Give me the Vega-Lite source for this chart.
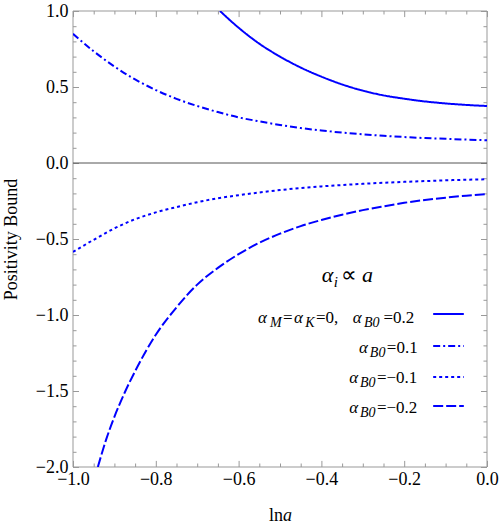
{
  "$schema": "https://vega.github.io/schema/vega-lite/v6.json",
  "width": 414,
  "height": 456,
  "autosize": "none",
  "padding": {"left": 73, "top": 11, "right": 13, "bottom": 58},
  "config": {"view": {"stroke": null}, "font": "Liberation Serif"},
  "datasets": {
    "curves": [
      {"s": "p2", "x": -0.645, "y": 1.0}, {"s": "p2", "x": -0.6, "y": 0.89}, {"s": "p2", "x": -0.55, "y": 0.785},
      {"s": "p2", "x": -0.5, "y": 0.70}, {"s": "p2", "x": -0.45, "y": 0.628}, {"s": "p2", "x": -0.4, "y": 0.568},
      {"s": "p2", "x": -0.35, "y": 0.517}, {"s": "p2", "x": -0.3, "y": 0.476}, {"s": "p2", "x": -0.25, "y": 0.445},
      {"s": "p2", "x": -0.2, "y": 0.423}, {"s": "p2", "x": -0.15, "y": 0.405}, {"s": "p2", "x": -0.1, "y": 0.392},
      {"s": "p2", "x": -0.05, "y": 0.382}, {"s": "p2", "x": 0, "y": 0.375},
      {"s": "p1", "x": -1, "y": 0.85}, {"s": "p1", "x": -0.95, "y": 0.735}, {"s": "p1", "x": -0.9, "y": 0.635},
      {"s": "p1", "x": -0.85, "y": 0.55}, {"s": "p1", "x": -0.8, "y": 0.48}, {"s": "p1", "x": -0.75, "y": 0.422},
      {"s": "p1", "x": -0.7, "y": 0.375}, {"s": "p1", "x": -0.65, "y": 0.335}, {"s": "p1", "x": -0.6, "y": 0.30},
      {"s": "p1", "x": -0.55, "y": 0.274}, {"s": "p1", "x": -0.5, "y": 0.25}, {"s": "p1", "x": -0.45, "y": 0.23},
      {"s": "p1", "x": -0.4, "y": 0.214}, {"s": "p1", "x": -0.35, "y": 0.20}, {"s": "p1", "x": -0.3, "y": 0.189},
      {"s": "p1", "x": -0.25, "y": 0.179}, {"s": "p1", "x": -0.2, "y": 0.171}, {"s": "p1", "x": -0.15, "y": 0.164},
      {"s": "p1", "x": -0.1, "y": 0.159}, {"s": "p1", "x": -0.05, "y": 0.154}, {"s": "p1", "x": 0, "y": 0.15},
      {"s": "m1", "x": -1, "y": -0.585}, {"s": "m1", "x": -0.95, "y": -0.505}, {"s": "m1", "x": -0.9, "y": -0.43},
      {"s": "m1", "x": -0.85, "y": -0.37}, {"s": "m1", "x": -0.8, "y": -0.325}, {"s": "m1", "x": -0.75, "y": -0.29},
      {"s": "m1", "x": -0.7, "y": -0.258}, {"s": "m1", "x": -0.65, "y": -0.232}, {"s": "m1", "x": -0.6, "y": -0.212},
      {"s": "m1", "x": -0.55, "y": -0.194}, {"s": "m1", "x": -0.5, "y": -0.178}, {"s": "m1", "x": -0.45, "y": -0.165},
      {"s": "m1", "x": -0.4, "y": -0.154}, {"s": "m1", "x": -0.35, "y": -0.145}, {"s": "m1", "x": -0.3, "y": -0.137},
      {"s": "m1", "x": -0.25, "y": -0.13}, {"s": "m1", "x": -0.2, "y": -0.124}, {"s": "m1", "x": -0.15, "y": -0.119},
      {"s": "m1", "x": -0.1, "y": -0.114}, {"s": "m1", "x": -0.05, "y": -0.11}, {"s": "m1", "x": 0, "y": -0.107},
      {"s": "m2", "x": -0.94, "y": -2.0}, {"s": "m2", "x": -0.92, "y": -1.82}, {"s": "m2", "x": -0.9, "y": -1.67},
      {"s": "m2", "x": -0.875, "y": -1.51}, {"s": "m2", "x": -0.85, "y": -1.37}, {"s": "m2", "x": -0.8, "y": -1.13},
      {"s": "m2", "x": -0.75, "y": -0.95}, {"s": "m2", "x": -0.7, "y": -0.80}, {"s": "m2", "x": -0.65, "y": -0.69},
      {"s": "m2", "x": -0.6, "y": -0.60}, {"s": "m2", "x": -0.55, "y": -0.525}, {"s": "m2", "x": -0.5, "y": -0.465},
      {"s": "m2", "x": -0.45, "y": -0.415}, {"s": "m2", "x": -0.4, "y": -0.375}, {"s": "m2", "x": -0.35, "y": -0.34},
      {"s": "m2", "x": -0.3, "y": -0.31}, {"s": "m2", "x": -0.25, "y": -0.285}, {"s": "m2", "x": -0.2, "y": -0.262},
      {"s": "m2", "x": -0.15, "y": -0.243}, {"s": "m2", "x": -0.1, "y": -0.228}, {"s": "m2", "x": -0.05, "y": -0.215},
      {"s": "m2", "x": 0, "y": -0.205}
    ],
    "legend": [
      {"s": "p2", "y": -0.993},
      {"s": "p1", "y": -1.204},
      {"s": "m1", "y": -1.408},
      {"s": "m2", "y": -1.599}
    ],
    "xmaj": [{"v": -1}, {"v": -0.8}, {"v": -0.6}, {"v": -0.4}, {"v": -0.2}, {"v": 0}],
    "xmin": [{"v": -0.95}, {"v": -0.9}, {"v": -0.85}, {"v": -0.75}, {"v": -0.7}, {"v": -0.65}, {"v": -0.55}, {"v": -0.5},
             {"v": -0.45}, {"v": -0.35}, {"v": -0.3}, {"v": -0.25}, {"v": -0.15}, {"v": -0.1}, {"v": -0.05}],
    "ymaj": [{"v": -2}, {"v": -1.5}, {"v": -1}, {"v": -0.5}, {"v": 0}, {"v": 0.5}, {"v": 1}],
    "ymin": [{"v": -1.9}, {"v": -1.8}, {"v": -1.7}, {"v": -1.6}, {"v": -1.4}, {"v": -1.3}, {"v": -1.2}, {"v": -1.1},
             {"v": -0.9}, {"v": -0.8}, {"v": -0.7}, {"v": -0.6}, {"v": -0.4}, {"v": -0.3}, {"v": -0.2}, {"v": -0.1},
             {"v": 0.1}, {"v": 0.2}, {"v": 0.3}, {"v": 0.4}, {"v": 0.6}, {"v": 0.7}, {"v": 0.8}, {"v": 0.9}],
    "txt": [
      {"g": "i", "t": "α", "x": -0.553, "y": -1.053},
      {"g": "s", "t": "M", "x": -0.524, "y": -1.053},
      {"g": "u", "t": "=", "x": -0.493, "y": -1.053},
      {"g": "i", "t": "α", "x": -0.466, "y": -1.053},
      {"g": "s", "t": "K", "x": -0.439, "y": -1.053},
      {"g": "u", "t": "=0,", "x": -0.413, "y": -1.053},
      {"g": "i", "t": "α", "x": -0.324, "y": -1.053},
      {"g": "s", "t": "B0", "x": -0.297, "y": -1.053},
      {"g": "u", "t": "=0.2", "x": -0.250, "y": -1.053},
      {"g": "i", "t": "α", "x": -0.309, "y": -1.25},
      {"g": "s", "t": "B0", "x": -0.283, "y": -1.25},
      {"g": "u", "t": "=0.1", "x": -0.242, "y": -1.25},
      {"g": "i", "t": "α", "x": -0.333, "y": -1.447},
      {"g": "s", "t": "B0", "x": -0.307, "y": -1.447},
      {"g": "u", "t": "=−0.1", "x": -0.266, "y": -1.447},
      {"g": "i", "t": "α", "x": -0.333, "y": -1.645},
      {"g": "s", "t": "B0", "x": -0.307, "y": -1.645},
      {"g": "u", "t": "=−0.2", "x": -0.266, "y": -1.645},
      {"g": "ti", "t": "α", "x": -0.399, "y": -0.783},
      {"g": "ts", "t": "i", "x": -0.370, "y": -0.783},
      {"g": "tu", "t": "∝", "x": -0.352, "y": -0.783},
      {"g": "ti", "t": "a", "x": -0.302, "y": -0.783},
      {"g": "xu", "t": "ln", "x": -0.493, "y": -2.355},
      {"g": "xi", "t": "a", "x": -0.493, "y": -2.355}
    ]
  },
  "resolve": {"axis": {"x": "independent", "y": "independent"}},
  "layer": [
    {
      "data": {"values": [{"x0": -1, "x1": 0, "y0": -2, "y1": 1}]},
      "mark": {"type": "rect", "filled": false, "stroke": "#999999", "strokeWidth": 1},
      "encoding": {
        "x": {"field": "x0", "type": "quantitative", "axis": null},
        "x2": {"field": "x1"},
        "y": {"field": "y0", "type": "quantitative", "axis": null},
        "y2": {"field": "y1"}
      }
    },
    {
      "data": {"name": "xmaj"},
      "mark": {"type": "rule", "color": "#999999", "strokeWidth": 1, "xOffset": 0.5},
      "encoding": {"x": {"field": "v", "type": "quantitative", "axis": null},
        "y": {"datum": -2, "type": "quantitative", "axis": null}, "y2": {"datum": -1.96}}
    },
    {
      "data": {"name": "xmaj"},
      "mark": {"type": "rule", "color": "#999999", "strokeWidth": 1, "xOffset": 0.5},
      "encoding": {"x": {"field": "v", "type": "quantitative", "axis": null},
        "y": {"datum": 1, "type": "quantitative", "axis": null}, "y2": {"datum": 0.96}}
    },
    {
      "data": {"name": "xmin"},
      "mark": {"type": "rule", "color": "#999999", "strokeWidth": 1, "xOffset": 0.5},
      "encoding": {"x": {"field": "v", "type": "quantitative", "axis": null},
        "y": {"datum": -2, "type": "quantitative", "axis": null}, "y2": {"datum": -1.977}}
    },
    {
      "data": {"name": "xmin"},
      "mark": {"type": "rule", "color": "#999999", "strokeWidth": 1, "xOffset": 0.5},
      "encoding": {"x": {"field": "v", "type": "quantitative", "axis": null},
        "y": {"datum": 1, "type": "quantitative", "axis": null}, "y2": {"datum": 0.977}}
    },
    {
      "data": {"name": "ymaj"},
      "mark": {"type": "rule", "color": "#999999", "strokeWidth": 1, "yOffset": 0.5},
      "encoding": {"y": {"field": "v", "type": "quantitative", "axis": null},
        "x": {"datum": -1, "type": "quantitative", "axis": null}, "x2": {"datum": -0.9855}}
    },
    {
      "data": {"name": "ymaj"},
      "mark": {"type": "rule", "color": "#999999", "strokeWidth": 1, "yOffset": 0.5},
      "encoding": {"y": {"field": "v", "type": "quantitative", "axis": null},
        "x": {"datum": 0, "type": "quantitative", "axis": null}, "x2": {"datum": -0.0145}}
    },
    {
      "data": {"name": "ymin"},
      "mark": {"type": "rule", "color": "#999999", "strokeWidth": 1, "yOffset": 0.5},
      "encoding": {"y": {"field": "v", "type": "quantitative", "axis": null},
        "x": {"datum": -1, "type": "quantitative", "axis": null}, "x2": {"datum": -0.9915}}
    },
    {
      "data": {"name": "ymin"},
      "mark": {"type": "rule", "color": "#999999", "strokeWidth": 1, "yOffset": 0.5},
      "encoding": {"y": {"field": "v", "type": "quantitative", "axis": null},
        "x": {"datum": 0, "type": "quantitative", "axis": null}, "x2": {"datum": -0.0085}}
    },
    {
      "data": {"values": [{"z": 0}]},
      "mark": {"type": "rule", "color": "#555555", "strokeWidth": 1},
      "encoding": {"y": {"field": "z", "type": "quantitative", "axis": null}}
    },
    {
      "data": {"name": "curves"},
      "mark": {"type": "line", "color": "#0000ff", "strokeWidth": 2, "interpolate": "monotone", "clip": true},
      "encoding": {
        "x": {"field": "x", "type": "quantitative",
          "scale": {"domain": [-1, 0], "nice": false, "zero": false},
          "axis": {"orient": "bottom", "values": [-1, -0.8, -0.6, -0.4, -0.2, 0], "format": ".1f", "title": null, "grid": false,
            "domain": false, "ticks": false,
            "labelFont": "Liberation Serif", "labelFontSize": 18,
            "labelColor": "#000000", "labelPadding": 3, "labelFlush": false, "labelOverlap": false}},
        "y": {"field": "y", "type": "quantitative",
          "scale": {"domain": [-2, 1], "nice": false, "zero": false},
          "axis": {"orient": "left", "values": [-2, -1.5, -1, -0.5, 0, 0.5, 1], "format": ".1f", "grid": false,
            "domain": false, "ticks": false,
            "labelFont": "Liberation Serif", "labelFontSize": 18,
            "labelColor": "#000000", "labelPadding": 5, "labelFlush": false, "labelOverlap": false,
            "title": "Positivity Bound", "titleFont": "Liberation Serif", "titleFontSize": 18, "titleFontWeight": "normal",
            "titleColor": "#000000", "titleX": -57, "titleY": 228, "titleAngle": -90, "titleAlign": "center", "titleBaseline": "alphabetic"}},
        "strokeDash": {"field": "s", "type": "nominal", "legend": null,
          "scale": {"domain": ["p2", "p1", "m1", "m2"], "range": [[1, 0], [7, 3, 2, 3], [3, 3], [10, 3]]}}
      }
    },
    {
      "data": {"name": "legend"},
      "mark": {"type": "rule", "color": "#0000ff", "strokeWidth": 2},
      "encoding": {
        "x": {"datum": -0.13, "type": "quantitative", "axis": null},
        "x2": {"datum": -0.056},
        "y": {"field": "y", "type": "quantitative", "axis": null},
        "strokeDash": {"field": "s", "type": "nominal", "legend": null,
          "scale": {"domain": ["p2", "p1", "m1", "m2"], "range": [[1, 0], [7, 3, 2, 3], [3, 3], [10, 3]]}}
      }
    },
    {
      "data": {"name": "txt"},
      "transform": [{"filter": "datum.g === 'u'"}],
      "mark": {"type": "text", "font": "Liberation Serif", "fontSize": 17, "align": "left", "baseline": "alphabetic", "color": "#000000"},
      "encoding": {
        "x": {"field": "x", "type": "quantitative", "axis": null},
        "y": {"field": "y", "type": "quantitative", "axis": null},
        "text": {"field": "t"}
      }
    },
    {
      "data": {"name": "txt"},
      "transform": [{"filter": "datum.g === 'i'"}],
      "mark": {"type": "text", "font": "Liberation Serif", "fontSize": 17, "fontStyle": "italic", "align": "left", "baseline": "alphabetic", "color": "#000000"},
      "encoding": {
        "x": {"field": "x", "type": "quantitative", "axis": null},
        "y": {"field": "y", "type": "quantitative", "axis": null},
        "text": {"field": "t"}
      }
    },
    {
      "data": {"name": "txt"},
      "transform": [{"filter": "datum.g === 's'"}],
      "mark": {"type": "text", "font": "Liberation Serif", "fontSize": 14, "fontStyle": "italic", "align": "left", "baseline": "alphabetic", "dy": 4, "color": "#000000"},
      "encoding": {
        "x": {"field": "x", "type": "quantitative", "axis": null},
        "y": {"field": "y", "type": "quantitative", "axis": null},
        "text": {"field": "t"}
      }
    },
    {
      "data": {"name": "txt"},
      "transform": [{"filter": "datum.g === 'ti'"}],
      "mark": {"type": "text", "font": "Liberation Serif", "fontSize": 22, "fontStyle": "italic", "align": "left", "baseline": "alphabetic", "color": "#000000"},
      "encoding": {
        "x": {"field": "x", "type": "quantitative", "axis": null},
        "y": {"field": "y", "type": "quantitative", "axis": null},
        "text": {"field": "t"}
      }
    },
    {
      "data": {"name": "txt"},
      "transform": [{"filter": "datum.g === 'tu'"}],
      "mark": {"type": "text", "font": "Liberation Serif", "fontSize": 22, "align": "left", "baseline": "alphabetic", "color": "#000000"},
      "encoding": {
        "x": {"field": "x", "type": "quantitative", "axis": null},
        "y": {"field": "y", "type": "quantitative", "axis": null},
        "text": {"field": "t"}
      }
    },
    {
      "data": {"name": "txt"},
      "transform": [{"filter": "datum.g === 'ts'"}],
      "mark": {"type": "text", "font": "Liberation Serif", "fontSize": 15, "fontStyle": "italic", "align": "left", "baseline": "alphabetic", "dy": 5, "color": "#000000"},
      "encoding": {
        "x": {"field": "x", "type": "quantitative", "axis": null},
        "y": {"field": "y", "type": "quantitative", "axis": null},
        "text": {"field": "t"}
      }
    },
    {
      "data": {"name": "txt"},
      "transform": [{"filter": "datum.g === 'xu'"}],
      "mark": {"type": "text", "font": "Liberation Serif", "fontSize": 18, "align": "right", "baseline": "alphabetic", "color": "#000000"},
      "encoding": {
        "x": {"field": "x", "type": "quantitative", "axis": null},
        "y": {"field": "y", "type": "quantitative", "axis": null},
        "text": {"field": "t"}
      }
    },
    {
      "data": {"name": "txt"},
      "transform": [{"filter": "datum.g === 'xi'"}],
      "mark": {"type": "text", "font": "Liberation Serif", "fontSize": 18, "fontStyle": "italic", "align": "left", "baseline": "alphabetic", "color": "#000000"},
      "encoding": {
        "x": {"field": "x", "type": "quantitative", "axis": null},
        "y": {"field": "y", "type": "quantitative", "axis": null},
        "text": {"field": "t"}
      }
    }
  ]
}
